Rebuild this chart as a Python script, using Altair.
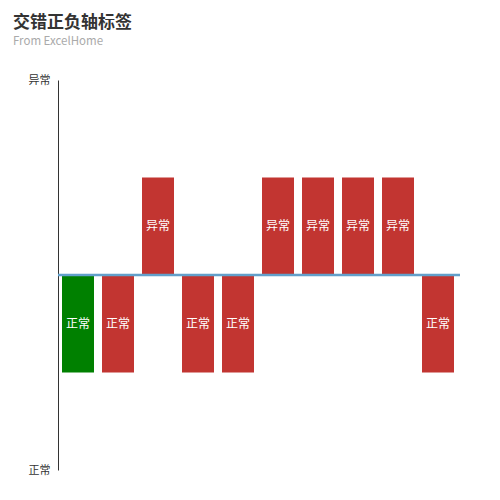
import altair as alt
import pandas as pd

categories = ["1", "2", "3", "4", "5", "6", "7", "8", "9", "10"]
values = [-1, -1, 1, -1, -1, 1, 1, 1, 1, -1]
labels = ["正常", "正常", "异常", "正常", "正常", "异常", "异常", "异常", "异常", "正常"]
colors = ["#008000", "#c23531", "#c23531", "#c23531", "#c23531",
          "#c23531", "#c23531", "#c23531", "#c23531", "#c23531"]

df = pd.DataFrame({
    "cat": categories,
    "value": values,
    "label": labels,
    "color": colors,
})
df["mid"] = df["value"] / 2

FONT = "Noto Sans CJK SC"

x = alt.X("cat:N", sort=categories, axis=None,
          scale=alt.Scale(paddingInner=0.2, paddingOuter=0.1))
yscale = alt.Scale(domain=[-2, 2], nice=False)

bars = alt.Chart(df).mark_bar().encode(
    x=x,
    y=alt.Y("value:Q", scale=yscale,
            axis=alt.Axis(values=[-2, 2], title=None, grid=False, ticks=False,
                          domain=True, domainColor="#333333", domainWidth=1,
                          labelExpr="datum.value > 0 ? '异常' : '正常'",
                          labelFont=FONT, labelFontSize=11, labelColor="#333333",
                          labelPadding=8, minExtent=45)),
    y2=alt.datum(0),
    color=alt.Color("color:N", scale=None),
)

text = alt.Chart(df).mark_text(color="white", font=FONT, fontSize=12,
                               baseline="middle").encode(
    x=x,
    y=alt.Y("mid:Q", scale=yscale),
    text="label:N",
)

zero = alt.Chart(pd.DataFrame({"z": [0]})).mark_rule(
    color="#62a0cb", strokeWidth=2.5).encode(
    y=alt.Y("z:Q", scale=yscale),
    x=alt.value(0),
    x2=alt.value(402),
)

chart = alt.layer(bars, zero, text).properties(
    width=400,
    height=390,
    background="white",
    padding={"left": 5, "top": 5, "right": 10, "bottom": 10},
    title=alt.TitleParams(
        text="交错正负轴标签",
        subtitle="From ExcelHome",
        anchor="start",
        frame="bounds",
        font=FONT,
        fontSize=17,
        fontWeight="bold",
        color="#333333",
        subtitleFont=FONT,
        subtitleFontSize=11.5,
        subtitleColor="#aaaaaa",
        subtitlePadding=4,
        offset=26,
    ),
).configure_view(strokeWidth=0)

chart.save("out.html", embed_options={"renderer": "svg", "actions": False})
